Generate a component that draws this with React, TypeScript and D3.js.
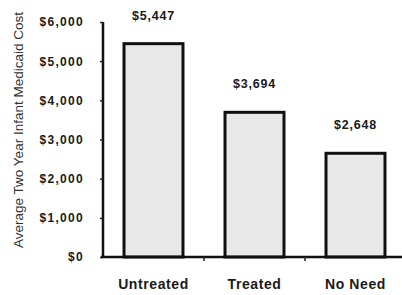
import { useRef, useEffect } from 'react';
import * as d3 from 'd3';

const categories = ['Untreated', 'Treated', 'No Need'];
const costs = [5447, 3694, 2648];
const costLabels = ['$5,447', '$3,694', '$2,648'];
const yTicks = [0, 1000, 2000, 3000, 4000, 5000, 6000];
const yTickLabels = ['$0', '$1,000', '$2,000', '$3,000', '$4,000', '$5,000', '$6,000'];
const yTitle = 'Average Two Year Infant Medicaid Cost';

export default function App() {
  const svgRef = useRef<SVGSVGElement>(null);

  useEffect(() => {
    if (!svgRef.current) return;
    const svg = d3.select(svgRef.current);
    svg.selectAll('*').remove();

    const left = 103;
    const right = 406;
    const top = 22;
    const bottom = 257;

    const x = d3.scaleBand<string>().domain(categories).range([left, right]).paddingInner(0.416).paddingOuter(0.208);
    const y = d3.scaleLinear().domain([0, 6000]).range([bottom, top]);

    const font = 'Arial, "Liberation Sans", sans-serif';

    // bars
    svg
      .append('g')
      .selectAll('rect')
      .data(costs)
      .enter()
      .append('rect')
      .attr('x', (d, i) => x(categories[i])!)
      .attr('y', (d) => y(d))
      .attr('width', x.bandwidth())
      .attr('height', (d) => y(0) - y(d))
      .attr('fill', '#e8e8e8')
      .attr('stroke', '#111')
      .attr('stroke-width', 3);

    // value labels
    svg
      .append('g')
      .selectAll('text')
      .data(costs)
      .enter()
      .append('text')
      .attr('x', (d, i) => x(categories[i])! + x.bandwidth() / 2)
      .attr('y', (d) => y(d) - 24)
      .attr('text-anchor', 'middle')
      .attr('font-family', font)
      .attr('font-weight', 'bold')
      .attr('font-size', 12.5)
      .attr('letter-spacing', 0.8)
      .attr('fill', '#1a1a1a')
      .text((d, i) => costLabels[i]);

    // y axis
    const yAxis = d3
      .axisLeft(y)
      .tickValues(yTicks)
      .tickSize(3)
      .tickPadding(16)
      .tickFormat((d, i) => yTickLabels[i]);
    const gy = svg.append('g').attr('transform', `translate(${left},0)`).call(yAxis);
    gy.select('.domain').attr('stroke', '#111').attr('stroke-width', 2.5).attr('d', `M0,${top}V${bottom}`);
    gy.selectAll('.tick line').attr('stroke', '#222').attr('stroke-width', 1.5);
    gy.selectAll('.tick text')
      .attr('font-family', font)
      .attr('font-weight', 'bold')
      .attr('font-size', 12)
      .attr('letter-spacing', 1.3)
      .attr('fill', '#1a1a1a');

    // x axis with ticks at category boundaries
    const gx = svg.append('g').attr('transform', `translate(0,${bottom})`);
    gx.append('line')
      .attr('x1', left - 2)
      .attr('x2', right - 4)
      .attr('stroke', '#111')
      .attr('stroke-width', 2.5);
    const step = x.step();
    gx.selectAll('.sep')
      .data(categories.slice(1))
      .enter()
      .append('line')
      .attr('x1', (d) => x(d)! - (step - x.bandwidth()) / 2)
      .attr('x2', (d) => x(d)! - (step - x.bandwidth()) / 2)
      .attr('y1', 0)
      .attr('y2', 4)
      .attr('stroke', '#222')
      .attr('stroke-width', 1.5);
    gx.selectAll('.cat')
      .data(categories)
      .enter()
      .append('text')
      .attr('x', (d) => x(d)! + x.bandwidth() / 2)
      .attr('y', 32)
      .attr('text-anchor', 'middle')
      .attr('font-family', font)
      .attr('font-weight', 'bold')
      .attr('font-size', 14)
      .attr('letter-spacing', 0.6)
      .attr('fill', '#1a1a1a')
      .text((d) => d);

    // y title
    svg
      .append('text')
      .attr('transform', `translate(23,130) rotate(-90)`)
      .attr('text-anchor', 'middle')
      .attr('font-family', font)
      .attr('font-size', 13.5)
      .attr('fill', '#333')
      .text(yTitle);
  }, []);

  return (
    <svg
      ref={svgRef}
      width={402}
      height={295}
      style={{ position: 'absolute', left: 0, top: 0, background: '#fff' }}
    />
  );
}
